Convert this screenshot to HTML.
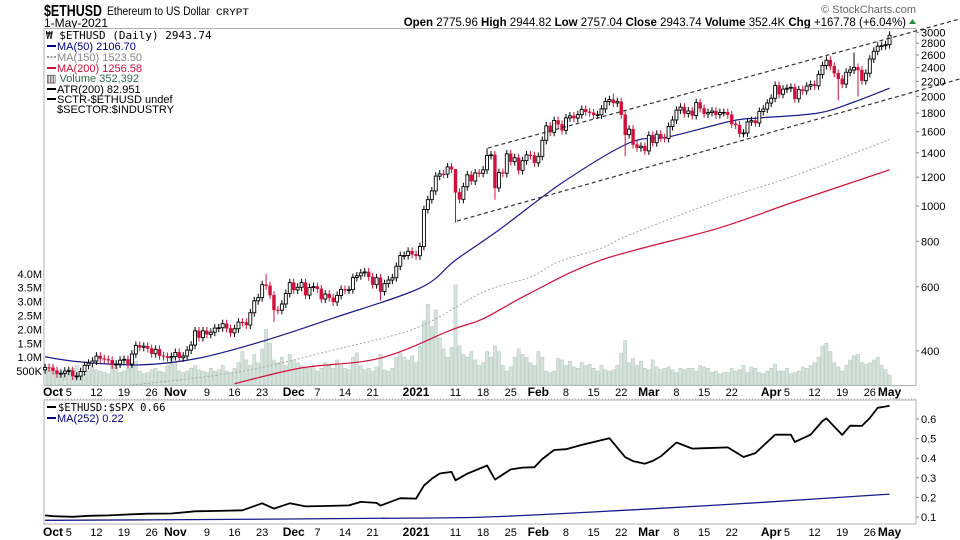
<!DOCTYPE html>
<html><head><meta charset="utf-8"><style>
html,body{margin:0;padding:0;background:#fff;}
svg{display:block;font-family:"Liberation Sans",sans-serif;}
</style></head><body>
<svg id="chart" width="960" height="540" viewBox="0 0 960 540" xmlns="http://www.w3.org/2000/svg">
<rect x="0" y="0" width="960" height="540" fill="#fff"/>
<g>
<text x="44" y="16" font-size="16" font-weight="bold" textLength="58" lengthAdjust="spacingAndGlyphs">$ETHUSD</text>
<text x="107" y="15" font-size="12" textLength="103" lengthAdjust="spacingAndGlyphs">Ethereum to US Dollar</text>
<text x="216" y="15" font-size="10" textLength="33" lengthAdjust="spacingAndGlyphs" font-family="Liberation Mono, monospace">CRYPT</text>
<text x="44" y="27" font-size="12">1-May-2021</text>
<text x="916" y="13" font-size="11" fill="#666" text-anchor="end">© StockCharts.com</text>
<text x="906" y="26" font-size="11.5" text-anchor="end"><tspan font-weight="bold">Open</tspan> 2775.96  <tspan font-weight="bold">High</tspan> 2944.82  <tspan font-weight="bold">Low</tspan> 2757.04  <tspan font-weight="bold">Close</tspan> 2943.74  <tspan font-weight="bold">Volume</tspan> 352.4K  <tspan font-weight="bold">Chg</tspan> +167.78 (+6.04%)</text>
<path d="M909 24 L912.5 19 L916 24 Z" fill="#2a8a3a"/>
</g>
<rect x="44" y="28.5" width="872" height="357" fill="none" stroke="#b0b0b0"/>
<rect x="44" y="400" width="872" height="124" fill="none" stroke="#b0b0b0"/>
<g id="vol"></g>
<g id="mas"></g>
<g id="candles"></g>
<g id="trend"></g>
<g id="ratio"></g>
<g id="axes"></g>
<g font-size="11">
<rect x="45" y="29" width="150" height="86" fill="#fff"/>
<text x="46" y="39" font-size="11" font-family="DejaVu Sans Mono, monospace">₩ $ETHUSD (Daily) 2943.74</text>
<line x1="47" y1="46" x2="56" y2="46" stroke="#000080" stroke-width="2"/><text x="57" y="50" fill="#000080">MA(50) 2106.70</text>
<line x1="47" y1="57" x2="56" y2="57" stroke="#999" stroke-width="2" stroke-dasharray="2,1.5"/><text x="57" y="61" fill="#888">MA(150) 1523.50</text>
<line x1="47" y1="68" x2="56" y2="68" stroke="#d0103a" stroke-width="2"/><text x="57" y="72" fill="#d0103a">MA(200) 1256.58</text>
<text x="46" y="82" fill="#2e6b4a"><tspan fill="#333">▥</tspan> Volume 352,392</text>
<line x1="47" y1="89" x2="56" y2="89" stroke="#000" stroke-width="2"/><text x="57" y="93">ATR(200) 82.951</text>
<line x1="47" y1="99" x2="56" y2="99" stroke="#000" stroke-width="2"/><text x="57" y="103">SCTR-$ETHUSD undef</text>
<text x="57" y="113">$SECTOR:$INDUSTRY</text>
</g>
<g font-size="11">
<line x1="47" y1="407" x2="56" y2="407" stroke="#000" stroke-width="2"/><text x="58" y="411" font-family="DejaVu Sans Mono, monospace" font-size="10.5">$ETHUSD:$SPX 0.66</text>
<line x1="47" y1="418" x2="56" y2="418" stroke="#000080" stroke-width="2"/><text x="57" y="422" fill="#000080">MA(252) 0.22</text>
</g>
</svg>
<script>
// ---- data (index 0 = 29-Sep-2020, daily through 1-May-2021) ----
const closes = [360,359,
353,346,347,352,353,341,341,351,365,370,375,387,381,379,377,366,368,377,379,368,392,414,409,412,406,393,404,388,386,383,386,
396,383,387,402,415,454,435,454,444,450,462,463,475,461,448,460,480,479,471,509,549,560,608,604,569,518,517,538,575,616,
588,598,616,569,597,601,592,555,573,560,545,568,590,587,589,636,643,655,659,639,608,635,582,612,626,635,683,731,731,751,737,
730,774,978,1041,1100,1208,1225,1224,1281,1262,1090,1043,1130,1218,1171,1233,1230,1257,1377,1382,1121,1236,1230,1391,1324,1357,1253,1332,1382,1376,1314,
1369,1515,1660,1594,1718,1677,1614,1746,1768,1744,1783,1843,1814,1805,1779,1781,1848,1937,1960,1919,1935,1781,1570,1626,1475,1446,1459,1417,
1564,1492,1575,1541,1533,1654,1723,1834,1869,1795,1825,1772,1924,1854,1791,1806,1823,1782,1807,1808,1781,1681,1669,1582,1587,1702,1716,1691,1819,1846,1918,
1977,2143,2028,2094,2107,2118,1971,2088,2072,2135,2157,2139,2299,2432,2514,2422,2315,2235,2162,2330,2364,2403,2364,2210,2316,2534,2662,2747,2757,2775,
2944];
const firstOpen = 355;
const volumesK = [600,550,
650,500,450,400,550,600,700,450,400,500,650,550,500,450,400,700,650,450,500,600,900,850,500,400,450,550,600,500,450,700,1000,
800,500,450,500,600,700,550,500,450,600,500,550,700,500,450,600,800,1200,900,700,1100,800,1300,2000,1500,900,800,1000,700,1100,
900,800,700,600,650,700,500,600,800,700,600,900,700,600,550,1000,1150,700,550,600,500,650,1100,550,500,600,1000,1150,1000,900,1050,
800,1400,2300,2900,2100,2700,1700,1300,1000,1350,3600,1400,1100,1000,1200,900,700,800,1200,1000,1400,1200,700,500,650,1000,1300,1100,1000,800,700,
1200,1000,500,450,500,950,900,700,850,650,600,800,700,750,600,500,700,550,500,550,700,1150,1600,800,950,700,850,600,
550,900,650,550,600,650,550,450,600,550,600,600,500,700,650,600,450,500,400,450,450,600,500,550,700,450,650,600,450,400,500,
600,750,500,500,600,400,450,500,650,600,700,800,1000,1400,1500,1200,800,650,500,700,900,1050,1100,800,750,800,900,1000,700,550,
352];
// notable wick extremes: [index, high, low]
const wickIdx = [56,58,85,104,112,114,144,147,201,205,206];
const wickHigh = [650,0,0,1260,1440,0,2040,0,0,2640,0];
const wickLow = [0,480,550,900,0,1040,0,1370,1950,0,2000];
// moving averages: day index and value
const ma50Day = [0,9,24,39,56,73,95,104,115,131,148,158,174,181,196,205,214];
const ma50Val = [385,373,366,382,428,492,595,710,859,1157,1490,1548,1712,1745,1801,1931,2107];
const ma150Day = [22,49,73,94,111,123,130,141,148,171,189,214];
const ma150Val = [322,350,402,462,580,638,702,766,832,1038,1201,1523];
const ma200Day = [48,65,85,103,111,123,141,170,189,214];
const ma200Val = [325,359,382,457,490,577,711,865,1019,1257];
// ratio panel
const ratioDay = [0,2,7,11,16,22,26,32,38,44,50,55,58,62,66,71,77,80,84,85,90,94,96,98,100,103,104,107,112,114,118,121,124,126,129,132,136,143,147,149,152,154,156,160,164,167,173,177,180,185,187,189,190,194,197,198,202,204,207,209,211,213,214];
const ratioVal = [0.108,0.104,0.101,0.106,0.108,0.114,0.117,0.118,0.129,0.131,0.134,0.170,0.143,0.170,0.154,0.156,0.159,0.177,0.172,0.158,0.196,0.194,0.26,0.295,0.322,0.330,0.287,0.321,0.363,0.291,0.343,0.352,0.354,0.396,0.442,0.446,0.468,0.502,0.405,0.385,0.372,0.386,0.409,0.480,0.449,0.451,0.455,0.406,0.426,0.52,0.52,0.52,0.483,0.52,0.59,0.603,0.519,0.566,0.565,0.605,0.657,0.664,0.668];
const ma252Day = [0,42,82,112,152,182,214];
const ma252Val = [0.083,0.087,0.093,0.1,0.14,0.175,0.217];
// ticks
const priceTicks = [3000,2800,2600,2400,2200,2000,1800,1600,1400,1200,1000,800,600,400];
const volTicks = [500,1000,1500,2000,2500,3000,3500,4000];
const volTickLabels = ["500K","1.0M","1.5M","2.0M","2.5M","3.0M","3.5M","4.0M"];
const ratioTicks = [0.6,0.5,0.4,0.3,0.2,0.1];
const xLabelDay = [2,6,13,20,27,33,41,48,55,63,69,76,83,94,104,111,118,125,132,139,146,153,160,167,174,184,188,195,202,209,214];
const xLabelText = ["Oct","5","12","19","26","Nov","9","16","23","Dec","7","14","21","2021","11","18","25","Feb","8","15","22","Mar","8","15","22","Apr","5","12","19","26","May"];
const xLabelBold = [1,0,0,0,0,1,0,0,0,1,0,0,0,1,0,0,0,1,0,0,0,1,0,0,0,1,0,0,0,0,1];
const trendUpper = [[112.2,1443],[231.8,3264]];
const trendLower = [[104.4,909],[231.8,2234]];

// ---- scales ----
const NS = "http://www.w3.org/2000/svg";
function xD(i){ return 53 + 3.946*(i-2); }
function yP(p){ return 206 - 364*Math.log10(p/1000); }
function yV(v){ return 385 - v*0.0278; }
function yR(v){ return 419 - (v-0.6)*196; }
function mk(tag, attrs, parent){ const e=document.createElementNS(NS,tag); for(const k in attrs) e.setAttribute(k,attrs[k]); parent.appendChild(e); return e; }

// volume
const gVol = document.getElementById('vol');
volumesK.forEach((v,i)=>{
  const r = mk('rect',{x:xD(i)-1.6,y:yV(v),width:3.2,height:385-yV(v),fill:'#d5e3dc',stroke:'#b9cdc2','stroke-width':0.6},gVol);
  
  
});

// lines
function pathStr(pts, smooth){
  if(!smooth) return pts.map((p,k)=>(k?'L':'M')+p[0].toFixed(1)+' '+p[1].toFixed(1)).join(' ');
  let d='M'+pts[0][0].toFixed(1)+' '+pts[0][1].toFixed(1);
  for(let k=0;k<pts.length-1;k++){
    const p0=pts[Math.max(k-1,0)],p1=pts[k],p2=pts[k+1],p3=pts[Math.min(k+2,pts.length-1)];
    const c1=[p1[0]+(p2[0]-p0[0])/6,p1[1]+(p2[1]-p0[1])/6];
    const c2=[p2[0]-(p3[0]-p1[0])/6,p2[1]-(p3[1]-p1[1])/6];
    d+=' C'+c1[0].toFixed(1)+' '+c1[1].toFixed(1)+' '+c2[0].toFixed(1)+' '+c2[1].toFixed(1)+' '+p2[0].toFixed(1)+' '+p2[1].toFixed(1);
  }
  return d;
}
function line(days, vals, fx, fy, attrs, parent, name, smooth){
  const pts = days.map((dd,k)=>[fx(dd),fy(vals[k])]);
  const p = mk('path',Object.assign({d:pathStr(pts,smooth),fill:'none'},attrs),parent);
  
  
}
const gMa = document.getElementById('mas');
line(ma150Day, ma150Val, xD, yP, {stroke:'#a0a8a8','stroke-width':1,'stroke-dasharray':'2,2'}, gMa, 'ma150-line', true);
line(ma200Day, ma200Val, xD, yP, {stroke:'#d0103a','stroke-width':1.2}, gMa, 'ma200-line', true);
line(ma50Day, ma50Val, xD, yP, {stroke:'#1a1a8c','stroke-width':1.2}, gMa, 'ma50-line', true);

// candles
const gC = document.getElementById('candles');
closes.forEach((c,i)=>{
  const o = i ? closes[i-1] : firstOpen;
  const w = wickIdx.indexOf(i);
  let hi = Math.max(o,c)*1.025, lo = Math.min(o,c)*0.975;
  if(w>=0){ if(wickHigh[w]) hi = wickHigh[w]; if(wickLow[w]) lo = wickLow[w]; }
  const up = c >= o;
  const col = up ? '#000' : '#d0103a';
  const x = xD(i);
  const g = mk('g',{},gC);
  
  
  mk('line',{x1:x,x2:x,y1:yP(hi),y2:yP(lo),stroke:col,'stroke-width':1},g);
  const yt = yP(Math.max(o,c)), yb = yP(Math.min(o,c));
  mk('rect',{x:x-1.5,y:yt,width:3,height:Math.max(yb-yt,0.8),fill:up?'#fff':'#d0103a',stroke:col,'stroke-width':up?0.9:0.4},g);
});

// trend channel
const gT = document.getElementById('trend');
[trendUpper,trendLower].forEach((t,k)=>{
  const l = mk('line',{x1:xD(t[0][0]),y1:yP(t[0][1]),x2:xD(t[1][0]),y2:yP(t[1][1]),stroke:'#333','stroke-width':1.2,'stroke-dasharray':'4,3'},gT);
  
  
});

// ratio panel
const gR = document.getElementById('ratio');
line(ma252Day, ma252Val, xD, yR, {stroke:'#1a1a8c','stroke-width':1.3}, gR, 'ma252-line', true);
line(ratioDay, ratioVal, xD, yR, {stroke:'#000','stroke-width':1.8,'stroke-linejoin':'round'}, gR, 'ratio-line', false);

// axes
const gA = document.getElementById('axes');
priceTicks.forEach(p=>{
  const y = yP(p);
  mk('line',{x1:916,x2:919,y1:y,y2:y,stroke:'#888'},gA);
  const t = mk('text',{x:921,y:y+4,'font-size':11},gA); t.textContent = p;
  
  
});
volTicks.forEach((v,k)=>{
  const t = mk('text',{x:42,y:yV(v)+4,'font-size':11,'text-anchor':'end'},gA); t.textContent = volTickLabels[k];
  
  
});
ratioTicks.forEach(v=>{
  const y = yR(v);
  mk('line',{x1:916,x2:919,y1:y,y2:y,stroke:'#888'},gA);
  const t = mk('text',{x:921,y:y+4,'font-size':11},gA); t.textContent = v.toFixed(1);
  
  
});
mk('line',{x1:44,x2:916,y1:399,y2:399,stroke:'#bbb','stroke-dasharray':'1,2'},gA);
[396,536].forEach(yy=>{
  xLabelDay.forEach((d,k)=>{
    const t = mk('text',{x:xD(d),y:yy,'font-size':xLabelBold[k]?12:11,'font-weight':xLabelBold[k]?'bold':'normal','text-anchor':'middle'},gA);
    t.textContent = xLabelText[k];
    
    
  });
});
</script>
</body></html>
